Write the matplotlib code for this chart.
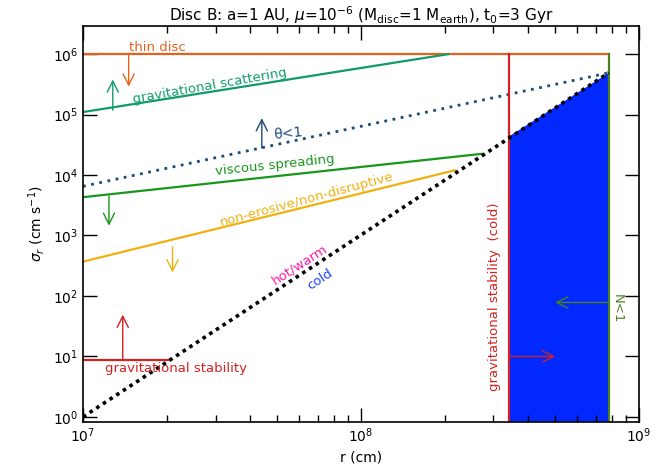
import numpy as np
import matplotlib
matplotlib.use("Agg")
import matplotlib.pyplot as plt
from matplotlib import ticker

# limits (r in cm, sigma in cm/s)
r_min, r_max = 1e7, 1e9
sig_min, sig_max = 0.83, 2.9e6

# boundary lines
r_thin = [1e7, 7.8e8]
sig_thin = [1e6, 1e6]

r_scat = [1e7, 2.07e8]
sig_scat = [1.1e5, 1e6]

r_theta = [1e7, 7.8e8]
sig_theta = [6.5e3, 4.9e5]

r_visc = [1e7, 2.72e8]
sig_visc = [4.3e3, 2.24e4]

r_eros = [1e7, 2.18e8]
sig_eros = [3.7e2, 1.2e4]

r_cold = [1e7, 7.8e8]
sig_cold = [1.0, 4.9e5]

r_gstab = [1e7, 2.06e7]
sig_gstab = [8.7, 8.7]

r_red = 3.4e8      # gravitational stability (cold)
r_green = 7.8e8    # N<1

# blue region corners
fill_r = [3.4e8, 3.4e8, 7.8e8, 7.8e8]
fill_sig = [sig_min, 4.3e4, 4.9e5, sig_min]

c_thin = '#e8601c'
c_scat = '#119b6c'
c_theta = '#1c4a78'
c_visc = '#17961a'
c_eros = '#f0b010'
c_red = '#d42020'
c_green = '#4b8020'
c_fill = '#0028ff'

fig = plt.figure(figsize=(6.64, 4.75), dpi=100)
ax = fig.add_axes([0.125, 0.112, 0.837, 0.833])
ax.set_xscale('log')
ax.set_yscale('log')
ax.set_xlim(r_min, r_max)
ax.set_ylim(sig_min, sig_max)

ax.fill(fill_r, fill_sig, color=c_fill, lw=0, zorder=1)

ax.plot(r_thin, sig_thin, color=c_thin, lw=1.6)
ax.plot(r_scat, sig_scat, color=c_scat, lw=1.6)
ax.plot(r_theta, sig_theta, color=c_theta, lw=2, ls=(0, (1, 2)))
ax.plot(r_visc, sig_visc, color=c_visc, lw=1.6)
ax.plot(r_eros, sig_eros, color=c_eros, lw=1.6)
ax.plot(r_gstab, sig_gstab, color=c_red, lw=1.6)
ax.plot([r_red, r_red], [sig_min, 1e6], color=c_red, lw=1.6)
ax.plot([r_green, r_green], [sig_min, 1e6], color=c_green, lw=1.6)
ax.plot(r_cold, sig_cold, color='black', lw=2.6, ls=(0, (1, 1.2)), zorder=3)


def arrow(x0, y0, x1, y1, c):
    ax.annotate('', xy=(x1, y1), xytext=(x0, y0),
                arrowprops=dict(arrowstyle='->,head_length=0.8,head_width=0.4',
                                color=c, lw=1, shrinkA=0, shrinkB=0))


arrow(1.46e7, 1e6, 1.46e7, 2.9e5, c_thin)
arrow(1.28e7, 1.18e5, 1.28e7, 3.8e5, c_scat)
arrow(4.4e7, 2.8e4, 4.4e7, 8.7e4, c_theta)
arrow(1.24e7, 4.5e3, 1.24e7, 1.45e3, c_visc)
arrow(2.1e7, 6.5e2, 2.1e7, 2.45e2, c_eros)
arrow(1.39e7, 8.7, 1.39e7, 49, c_red)
arrow(r_red, 10, 5.0e8, 10, c_red)
arrow(r_green, 78, 5.0e8, 78, c_green)

fs = 9.5
ax.text(1.47e7, 1.3e6, 'thin disc', color=c_thin, fontsize=fs, ha='left', va='center')
ax.text(2.85e7, 3.0e5, 'gravitational scattering', color=c_scat, fontsize=fs,
        ha='center', va='center', rotation=10)
ax.text(5.5e7, 4.8e4, 'θ<1', color=c_theta, fontsize=10, ha='center', va='center', rotation=6)
ax.text(4.9e7, 1.45e4, 'viscous spreading', color=c_visc, fontsize=fs,
        ha='center', va='center', rotation=6)
ax.text(6.4e7, 3.9e3, 'non-erosive/non-disruptive', color=c_eros, fontsize=fs,
        ha='center', va='center', rotation=15)
ax.text(6.0e7, 3.3e2, 'hot/warm', color='#ff1aa0', fontsize=fs,
        ha='center', va='center', rotation=33)
ax.text(7.1e7, 1.9e2, 'cold', color='#2040ff', fontsize=fs,
        ha='center', va='center', rotation=33)
ax.text(2.16e7, 6.3, 'gravitational stability', color=c_red, fontsize=fs,
        ha='center', va='center')
ax.text(3.03e8, 98, 'gravitational stability  (cold)', color=c_red, fontsize=fs,
        ha='center', va='center', rotation=90)
ax.text(8.4e8, 62, 'N<1', color=c_green, fontsize=fs, ha='center', va='center', rotation=-90)

ax.set_title(r'Disc B: a=1 AU, $\mu$=10$^{-6}$ (M$_{\rm disc}$=1 M$_{\rm earth}$), t$_0$=3 Gyr',
             fontsize=11, pad=4)
ax.set_xlabel('r (cm)', fontsize=10)
ax.set_ylabel(r'$\sigma_r$ (cm s$^{-1}$)', fontsize=10)

ax.tick_params(which='both', direction='in', top=True, right=True, labelsize=10)
ax.tick_params(which='major', length=10, width=1)
ax.tick_params(which='minor', length=5, width=1)
ax.yaxis.set_minor_locator(ticker.NullLocator())
ax.xaxis.set_minor_formatter(ticker.NullFormatter())
ax.xaxis.set_major_locator(ticker.LogLocator(base=10))
ax.yaxis.set_major_locator(ticker.LogLocator(base=10, numticks=10))
for s in ax.spines.values():
    s.set_linewidth(1.2)

fig.savefig('out.png', dpi=100)
